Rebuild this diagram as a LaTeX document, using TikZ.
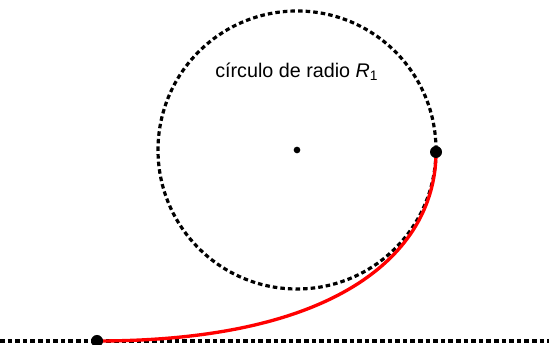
\documentclass[tikz,border=0pt]{standalone}
\usepackage{fontspec}
\setmainfont{Liberation Sans}
\usetikzlibrary{positioning}

\begin{document}
\begin{tikzpicture}[
    x=0.75pt, y=0.75pt,
    dotline/.style={draw=black, line width=2.4pt, dash pattern=on 3.4pt off 2.3pt},
    curve/.style={draw=red, line width=2.5pt},
    bigdot/.style={circle, fill=black, inner sep=0pt, minimum size=9pt},
    smalldot/.style={circle, fill=black, inner sep=0pt, minimum size=5pt},
]
\useasboundingbox (0,0) rectangle (549,345);

% Points
\coordinate (left) at (0,4);
\coordinate (right) at (549,4);
\coordinate (start) at (97,4);
\coordinate (stop) at (436,193);

% Circle of radius R1
\node[smalldot] (center) at (297,195) {};
\draw[dotline] (center.center) circle[radius=139];
\node[anchor=base west, inner sep=0pt, font=\fontsize{14.8}{17}\selectfont] (label) at (215,267) {círculo de radio {\itshape R}\textsubscript{1}};

% Straight line
\draw[dotline] (left) -- (right);

% Transition curve
\draw[curve] (start) .. controls +(250,0) and +(0,-95) .. (stop);
\node[bigdot] (startdot) at (start) {};
\node[bigdot] (stopdot) at (stop) {};

\end{tikzpicture}
\end{document}
